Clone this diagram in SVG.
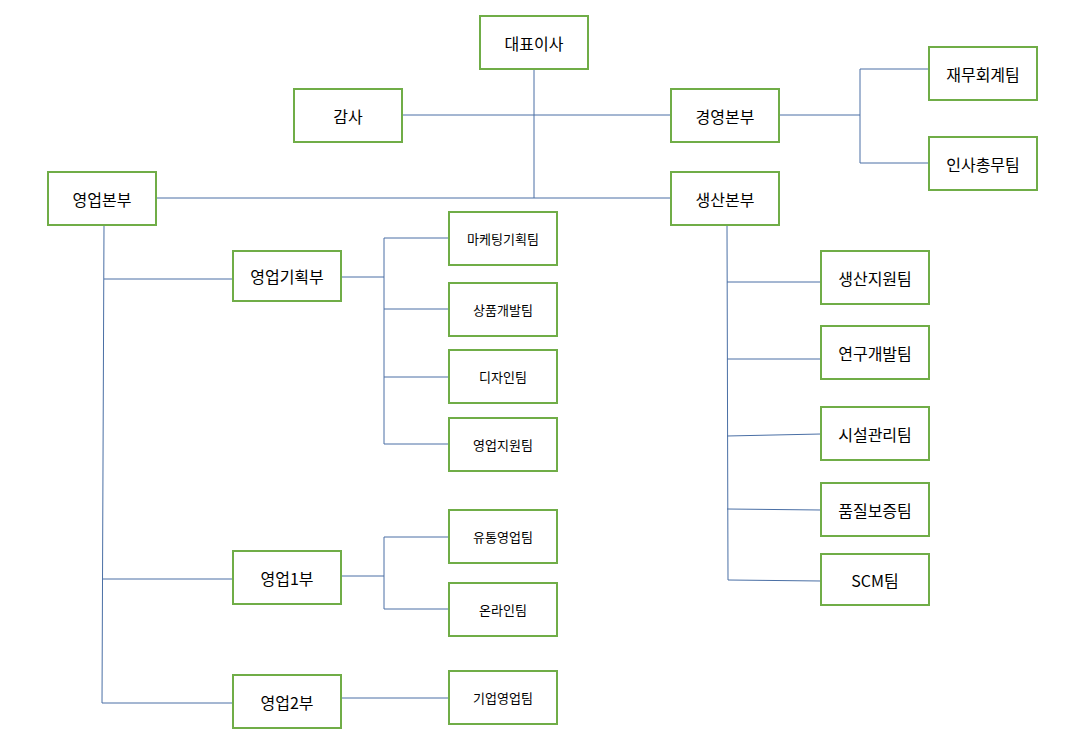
<svg xmlns="http://www.w3.org/2000/svg" width="1079" height="750" viewBox="0 0 1079 750">
<style>
.b rect{fill:#fff;stroke:#70ad47;stroke-width:2}
.b text{font-family:"Noto Sans CJK KR","Liberation Sans",sans-serif;font-size:16px;fill:#000;text-anchor:middle;dominant-baseline:central}
.s text{font-size:13px}
#c line{stroke:#4a6fa5;stroke-width:1}
</style>
<rect width="1079" height="750" fill="#fff"/>
<g id="c">
<line x1="534" y1="69" x2="534" y2="198"/>
<line x1="402" y1="115" x2="671" y2="115"/>
<line x1="156" y1="198" x2="671" y2="198"/>
<line x1="779" y1="115" x2="860" y2="115"/>
<line x1="860" y1="69" x2="860" y2="163"/>
<line x1="860" y1="69" x2="929" y2="69"/>
<line x1="860" y1="163" x2="929" y2="163"/>
<line x1="104" y1="225" x2="102" y2="703"/>
<line x1="104" y1="279" x2="233" y2="279"/>
<line x1="103" y1="579" x2="233" y2="579"/>
<line x1="102" y1="703" x2="233" y2="703"/>
<line x1="341" y1="277" x2="384" y2="277"/>
<line x1="384" y1="238" x2="384" y2="444"/>
<line x1="384" y1="238" x2="449" y2="238"/>
<line x1="384" y1="309" x2="449" y2="309"/>
<line x1="384" y1="377" x2="449" y2="377"/>
<line x1="384" y1="444" x2="449" y2="444"/>
<line x1="341" y1="576" x2="384" y2="576"/>
<line x1="384" y1="537" x2="384" y2="609"/>
<line x1="384" y1="537" x2="449" y2="537"/>
<line x1="384" y1="609" x2="449" y2="609"/>
<line x1="341" y1="698" x2="449" y2="698"/>
<line x1="727" y1="225" x2="728" y2="580"/>
<line x1="727" y1="282" x2="821" y2="282"/>
<line x1="727" y1="359" x2="821" y2="359"/>
<line x1="727" y1="436" x2="821" y2="434"/>
<line x1="727" y1="509" x2="821" y2="510"/>
<line x1="728" y1="580" x2="821" y2="581"/>
</g>
<g id="n1" class="b"><rect x="480" y="16" width="108" height="53"/><text x="534" y="42.5">대표이사</text></g>
<g id="n2" class="b"><rect x="294" y="89" width="108" height="53"/><text x="348" y="115.5">감사</text></g>
<g id="n3" class="b"><rect x="671" y="89" width="108" height="53"/><text x="725" y="115.5">경영본부</text></g>
<g id="n4" class="b"><rect x="929" y="47" width="108" height="53"/><text x="983" y="73.5">재무회계팀</text></g>
<g id="n5" class="b"><rect x="929" y="137" width="108" height="53"/><text x="983" y="163.5">인사총무팀</text></g>
<g id="n6" class="b"><rect x="48" y="172" width="108" height="53"/><text x="102" y="198.5">영업본부</text></g>
<g id="n7" class="b"><rect x="671" y="172" width="108" height="53"/><text x="725" y="198.5">생산본부</text></g>
<g id="n8" class="b"><rect x="233" y="251" width="108" height="50"/><text x="287" y="276">영업기획부</text></g>
<g id="n9" class="b s"><rect x="449" y="212" width="108" height="53"/><text x="503" y="238.5">마케팅기획팀</text></g>
<g id="n10" class="b s"><rect x="449" y="283" width="108" height="53"/><text x="503" y="309.5">상품개발팀</text></g>
<g id="n11" class="b s"><rect x="449" y="350" width="108" height="53"/><text x="503" y="376.5">디자인팀</text></g>
<g id="n12" class="b s"><rect x="449" y="418" width="108" height="53"/><text x="503" y="444.5">영업지원팀</text></g>
<g id="n13" class="b"><rect x="233" y="551" width="108" height="53"/><text x="287" y="577.5">영업1부</text></g>
<g id="n14" class="b s"><rect x="449" y="510" width="108" height="53"/><text x="503" y="536.5">유통영업팀</text></g>
<g id="n15" class="b s"><rect x="449" y="583" width="108" height="53"/><text x="503" y="609.5">온라인팀</text></g>
<g id="n16" class="b"><rect x="233" y="675" width="108" height="53"/><text x="287" y="701.5">영업2부</text></g>
<g id="n17" class="b s"><rect x="449" y="671" width="108" height="53"/><text x="503" y="697.5">기업영업팀</text></g>
<g id="n18" class="b"><rect x="821" y="251" width="108" height="53"/><text x="875" y="277.5">생산지원팀</text></g>
<g id="n19" class="b"><rect x="821" y="326" width="108" height="53"/><text x="875" y="352.5">연구개발팀</text></g>
<g id="n20" class="b"><rect x="821" y="407" width="108" height="53"/><text x="875" y="433.5">시설관리팀</text></g>
<g id="n21" class="b"><rect x="821" y="483" width="108" height="53"/><text x="875" y="509.5">품질보증팀</text></g>
<g id="n22" class="b"><rect x="821" y="554" width="108" height="51"/><text x="875" y="579.5">SCM팀</text></g>
</svg>
